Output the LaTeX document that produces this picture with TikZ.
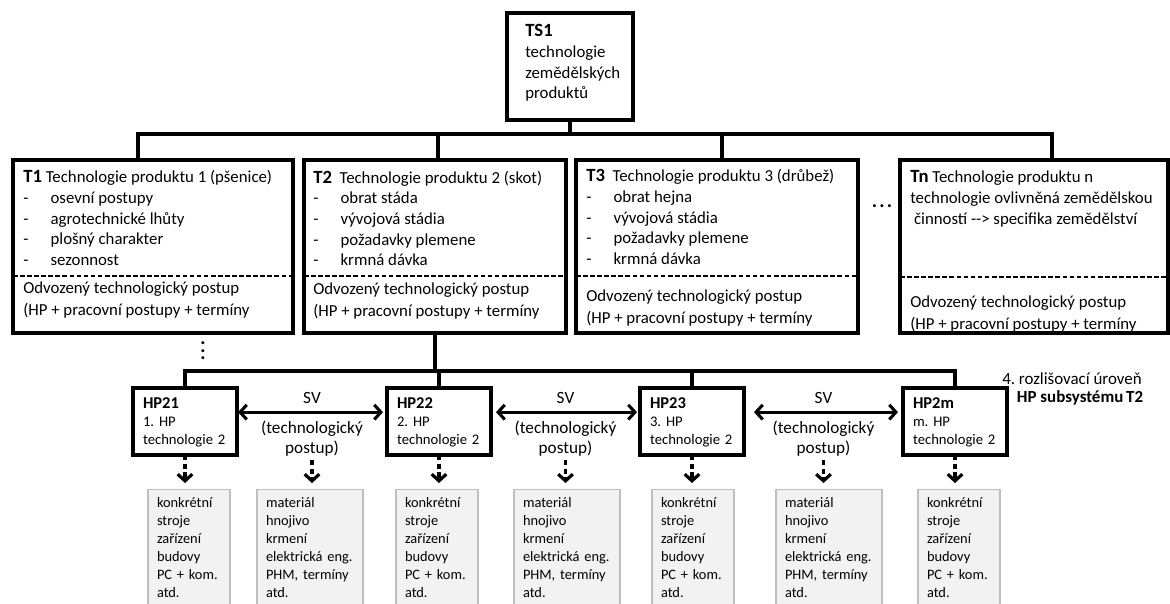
\documentclass[tikz,border=0pt]{standalone}
\usepackage{fontspec}
\setmainfont{Carlito}
\usetikzlibrary{arrows.meta,positioning}
\frenchspacing
\definecolor{resfill}{HTML}{F2F2F2}
\definecolor{resline}{HTML}{BFBFBF}
\newcommand{\fmain}{\fontsize{12.6}{15.5}\selectfont}
\newcommand{\flow}{\fontsize{12.6}{16.5}\selectfont}
\newcommand{\fhp}{\fontsize{11}{13.7}\selectfont}
\newcommand{\fsv}{\fontsize{12.9}{15}\selectfont}
\newcommand{\fres}{\fontsize{10.8}{13.5}\selectfont}
\newcommand{\flvl}{\fontsize{12.7}{13.2}\selectfont}
\newcommand{\fdot}{\fontsize{15}{15}\selectfont}
\newcommand{\lbl}[1]{{\fontsize{14}{15.5}\selectfont\bfseries #1}}
\newcommand{\hplbl}[1]{{\fontsize{12.4}{13.7}\selectfont\bfseries #1}}
\newcommand{\litem}[1]{\makebox[20.5pt][l]{-}#1}
\newcommand{\wdots}{.\kern1.6pt.\kern1.6pt.}
\tikzset{>={Straight Barb[length=5pt,width=11pt]}}
\tikzset{
  box/.style={draw, line width=2.4pt, inner sep=0pt, outer sep=0pt},
  tbox/.style={box, minimum height=129.75pt, anchor=north west},
  hpbox/.style={box, minimum width=78pt, minimum height=50.25pt, anchor=north west,
    align=left, text width=63pt, inner xsep=7.5pt, font=\fhp},
  txt/.style={anchor=north west, inner sep=0pt, align=left, font=\fmain},
  sep/.style={line width=1pt, dash pattern=on 3.5pt off 1.8pt},
  conn/.style={line width=2.5pt},
  dbl/.style={<->, line width=2.3pt},
  dsh/.style={->, line width=2.4pt, dash pattern=on 4pt off 2.5pt, shorten >=4.5pt},
  svl/.style={inner sep=0pt, align=center, font=\fsv},
  res/.style={draw=resline, fill=resfill, line width=0.8pt, anchor=north, align=left,
    inner xsep=6.75pt, inner ysep=3.7pt, font=\fres}
}

\begin{document}
\begin{tikzpicture}[x=0.75pt,y=-0.75pt]
\useasboundingbox (0,0) rectangle (1170,603);
\clip (0,0) rectangle (1170,603);

% system
\node[box, minimum width=94.5pt, minimum height=80.25pt, anchor=north west] (ts1) at (507,13) {};
\node[txt] (ts1a) at ([shift={(18,9)}]ts1.north west) {\strut\lbl{TS1}\\technologie\\zemědělských\\produktů};

% technologies
\node[tbox, minimum width=210pt] (t1) at (13,160) {};
\node[tbox, minimum width=196.5pt] (t2) at (304,160) {};
\node[tbox, minimum width=211.5pt] (t3) at (576,160) {};
\node[tbox, minimum width=201pt] (tn) at (900,160) {};

\node[txt] (t1a) at ([shift={(10,8)}]t1.north west)
  {\strut\lbl{T1} Technologie produktu 1 (pšenice)\\\litem{osevní postupy}\\\litem{agrotechnické lhůty}\\\litem{plošný charakter}\\\litem{sezonnost}};
\node[txt, font=\flow] (t1b) at ([shift={(10,118)}]t1.north west)
  {\strut Odvozený technologický postup\\(HP + pracovní postupy + termíny};
\node[txt] (t2a) at ([shift={(9,8.5)}]t2.north west)
  {\strut\lbl{T2}\ \ Technologie produktu 2 (skot)\\\litem{obrat stáda}\\\litem{vývojová stádia}\\\litem{požadavky plemene}\\\litem{krmná dávka}};
\node[txt, font=\flow] (t2b) at ([shift={(9,119)}]t2.north west)
  {\strut Odvozený technologický postup\\(HP + pracovní postupy + termíny};
\node[txt] (t3a) at ([shift={(10,7)}]t3.north west)
  {\strut\lbl{T3}\ \ Technologie produktu 3 (drůbež)\\\litem{obrat hejna}\\\litem{vývojová stádia}\\\litem{požadavky plemene}\\\litem{krmná dávka}};
\node[txt, font=\flow] (t3b) at ([shift={(10,126)}]t3.north west)
  {\strut Odvozený technologický postup\\(HP + pracovní postupy + termíny};
\node[txt] (tna) at ([shift={(10,8)}]tn.north west)
  {\strut\lbl{Tn} Technologie produktu n\\technologie ovlivněná zemědělskou\\\ činností -{}-{}> specifika zemědělství};
\node[txt, font=\flow] (tnb) at ([shift={(10,131.5)}]tn.north west)
  {\strut Odvozený technologický postup\\(HP + pracovní postupy + termíny};

\draw[sep] ([yshift=-87pt]t1.north west) -- ([yshift=-87pt]t1.north east);
\draw[sep] ([yshift=-87pt]t2.north west) -- ([yshift=-87pt]t2.north east);
\draw[sep] ([yshift=-87pt]t3.north west) -- ([yshift=-87pt]t3.north east);
\draw[sep] ([yshift=-87.75pt]tn.north west) -- ([yshift=-87.75pt]tn.north east);

\node[inner sep=0pt, font=\fdot\bfseries, anchor=base] (dots) at (882,207) {\wdots};
\node[inner sep=0pt, font=\fdot\bfseries, rotate=-90] (vd) at (203,351) {\wdots};

\coordinate (bus) at (570,134);
\draw[conn] (ts1.south) -- (ts1.south |- bus);
\draw[conn] ([xshift=-11.25pt]t1.north) |- ([xshift=13.5pt]tn.north |- bus) -- ([xshift=13.5pt]tn.north);
\draw[conn] ([xshift=2.25pt]t2.north) -- ([xshift=2.25pt]t2.north |- bus);
\draw[conn] ([xshift=3.75pt]t3.north) -- ([xshift=3.75pt]t3.north |- bus);

% main processes of T2
\node[hpbox] (hp21) at (133,388) {\strut\hplbl{HP21}\\1. HP\\technologie 2};
\node[hpbox] (hp22) at (387,388) {\strut\hplbl{HP22}\\2. HP\\technologie 2};
\node[hpbox] (hp23) at (640,388) {\strut\hplbl{HP23}\\3. HP\\technologie 2};
\node[hpbox] (hp2m) at (903,388) {\strut\hplbl{HP2m}\\m. HP\\technologie 2};

\coordinate (hpbus) at (434,371);
\draw[conn] (t2.south) -- (t2.south |- hpbus);
\draw[conn] (hp21.north) |- (hp2m.north |- hpbus) -- (hp2m.north);
\draw[conn] (hp22.north) -- (hp22.north |- hpbus);
\draw[conn] (hp23.north) -- (hp23.north |- hpbus);

\draw[dbl, shorten <=0.75pt, shorten >=3pt] ([yshift=7pt]hp21.east) --
  node[svl, above=5.4pt] (sv1) {SV}
  node[svl, below=4.5pt] (tp1) {\strut(technologický\\postup)} ([yshift=7pt]hp22.west);
\draw[dbl, shorten <=3.75pt, shorten >=2.25pt] ([yshift=7pt]hp22.east) --
  node[svl, above=5.4pt] (sv2) {SV}
  node[svl, below=4.5pt] (tp2) {\strut(technologický\\postup)} ([yshift=7pt]hp23.west);
\draw[dbl, shorten <=7.5pt, shorten >=3.75pt] ([yshift=7pt]hp23.east) --
  node[svl, above=5.4pt] (sv3) {SV}
  node[svl, below=4.5pt] (tp3) {\strut(technologický\\postup)} ([yshift=7pt]hp2m.west);

\node[txt, font=\flvl] (lvl) at (1002,372) {\strut 4. rozlišovací úroveň\\\hspace*{11pt}\textbf{HP subsystému\,T2}};

% resources
\node[res, text width=48pt] (r21) at (189,489) {\strut konkrétní\\stroje\\zařízení\\budovy\\PC + kom.\\atd.\strut};
\node[res, text width=66pt] (m1) at (310,489) {\strut materiál\\hnojivo\\krmení\\elektrická eng.\\PHM, termíny\\atd.\strut};
\node[res, text width=48pt] (r22) at (437,489) {\strut konkrétní\\stroje\\zařízení\\budovy\\PC + kom.\\atd.\strut};
\node[res, text width=66pt] (m2) at (567,489) {\strut materiál\\hnojivo\\krmení\\elektrická eng.\\PHM, termíny\\atd.\strut};
\node[res, text width=48pt] (r23) at (693,489) {\strut konkrétní\\stroje\\zařízení\\budovy\\PC + kom.\\atd.\strut};
\node[res, text width=66pt] (m3) at (829,489) {\strut materiál\\hnojivo\\krmení\\elektrická eng.\\PHM, termíny\\atd.\strut};
\node[res, text width=48pt] (r2m) at (959,489) {\strut konkrétní\\stroje\\zařízení\\budovy\\PC + kom.\\atd.\strut};

\draw[dsh] (hp21.south) -- (hp21.south |- r21.north);
\draw[dsh] (hp22.south) -- (hp22.south |- r22.north);
\draw[dsh] (hp23.south) -- (hp23.south |- r23.north);
\draw[dsh] (hp2m.south) -- (hp2m.south |- r2m.north);
\draw[dsh, shorten <=1.5pt] (tp1.south) -- (tp1.south |- m1.north);
\draw[dsh, shorten <=1.5pt] (tp2.south) -- (tp2.south |- m2.north);
\draw[dsh, shorten <=1.5pt] (tp3.south) -- (tp3.south |- m3.north);
\end{tikzpicture}
\end{document}
